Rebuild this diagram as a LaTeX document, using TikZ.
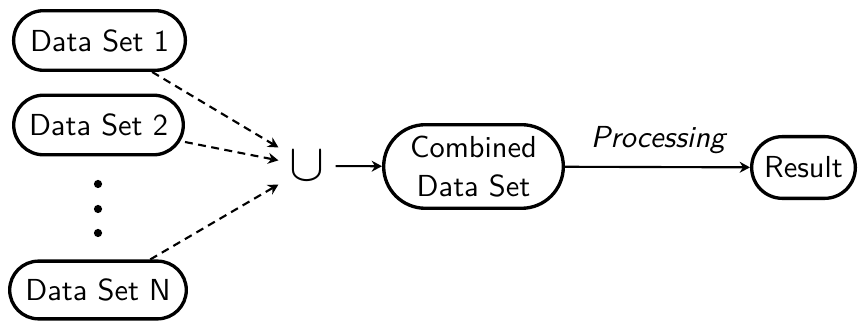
\documentclass[tikz,border=0pt]{standalone}
\usepackage{fontspec}
\setsansfont{Latin Modern Sans}
\usetikzlibrary{arrows.meta}
\begin{document}
\begin{tikzpicture}[x=0.329pt,y=-0.329pt,
  font=\sffamily\fontsize{10}{13}\selectfont,
  box/.style={draw, rectangle, rounded corners=9.8pt, line width=1.1pt, inner xsep=1pt, inner ysep=0pt, minimum height=19.6pt, align=center},
  conn/.style={line width=0.7pt, -{Stealth[length=3.4pt,width=3.6pt,inset=1.1pt]}},
  dconn/.style={conn, dash pattern=on 2.6pt off 1.8pt},
  dotmark/.style={fill, circle, inner sep=0pt, minimum size=2.7pt}
]
\useasboundingbox (0,0) rectangle (858,321);
\node[box, minimum width=56.5pt] (ds1) at (99.5,40.5) {Data Set 1};
\node[box, minimum width=55.8pt] (ds2) at (98.5,125) {Data Set 2};
\node[box, minimum width=58.1pt, minimum height=19pt, rounded corners=9.5pt] (dsN) at (98,290) {Data Set N};
\node[dotmark] (d1) at (98,184) {};
\node[dotmark] (d2) at (98,209) {};
\node[dotmark] (d3) at (98,233) {};
\node[inner sep=0pt, minimum width=18.4pt, minimum height=11.8pt] (cup) at (307,166) {\LARGE$\cup$};
\node[box, minimum width=59.1pt, minimum height=27.5pt, rounded corners=13.7pt] (comb) at (473.5,166.5) {Combined\\Data Set};
\node[box, minimum width=34.1pt, minimum height=20.3pt, rounded corners=10.1pt] (res) at (803.5,167.5) {Result};
\node (proc) at (658,140) {\itshape Processing};
\draw[dconn] (ds1) -- (cup.north west);
\draw[dconn] (ds2) -- (cup);
\draw[dconn] (dsN) -- (cup.south west);
\draw[conn] (cup) -- (comb);
\draw[conn] (comb) -- (res);
\end{tikzpicture}
\end{document}
